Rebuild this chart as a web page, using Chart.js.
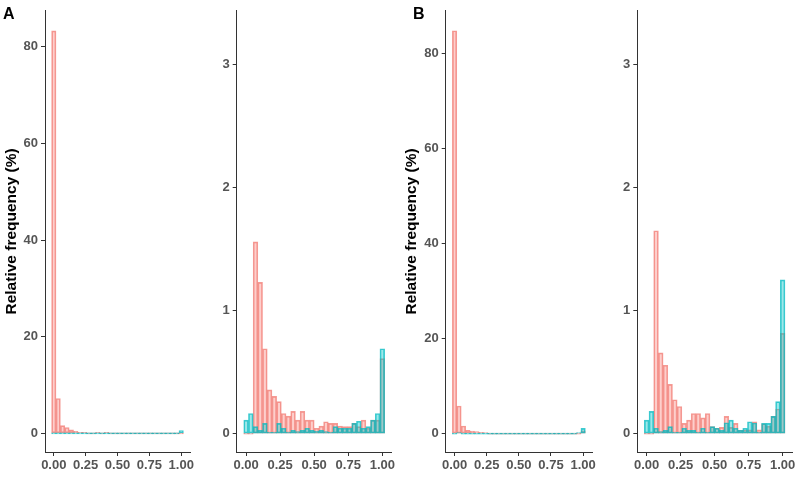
<!DOCTYPE html>
<html lang="en">
<head>
<meta charset="utf-8">
<title>Relative frequency histograms</title>
<script src="https://cdn.jsdelivr.net/npm/chart.js"></script>
<style>
    body { margin: 0; background: #fff; }
    .wrap { position: relative; width: 800px; height: 479px; overflow: hidden; }
    canvas { position: absolute; top: 0; }
    .tag {
        position: absolute; top: 5px; line-height: 16px;
        font: bold 16px "Liberation Sans", Arial, sans-serif; color: #000;
    }
</style>
</head>
<body>
<div class="wrap">
    <canvas id="aLeft" width="200" height="479" style="left:0px"></canvas>
    <canvas id="aRight" width="200" height="479" style="left:200px"></canvas>
    <canvas id="bLeft" width="200" height="479" style="left:400px"></canvas>
    <canvas id="bRight" width="200" height="479" style="left:600px"></canvas>
    <div class="tag" style="left:3px">A</div>
    <div class="tag" style="left:413px">B</div>
</div>
<script>
// 30 bins over 0..1 (bin centres)
const nBins = 30;
const binCenters = Array.from({length: nBins}, (_, i) => i / (nBins - 1));
const xTicks = [0, 0.25, 0.5, 0.75, 1];
const xTickLabels = ['0.00', '0.25', '0.50', '0.75', '1.00'];
const yTicksBig = [0, 20, 40, 60, 80];
const yTicksSmall = [0, 1, 2, 3];

// panel A, left
const aLeftRed = [83.3, 7.2, 1.6, 1.2, 0.7, 0.4, 0.2, 0.2, 0, 0, 0.15, 0, 0.15, 0, 0,
                  0, 0, 0, 0, 0, 0, 0, 0, 0, 0, 0, 0, 0, 0, 0];
const aLeftCyan = [0, 0, 0, 0, 0, 0, 0, 0, 0, 0, 0, 0, 0, 0, 0,
                   0, 0, 0, 0, 0, 0, 0, 0, 0, 0, 0, 0, 0, 0, 0.55];
// panel A, right
const aRightRed = [0, 0, 1.56, 1.23, 0.69, 0.356, 0.302, 0.26, 0.163, 0.142, 0.18, 0.11, 0.18, 0.11, 0.11,
                   0.043, 0.061, 0.096, 0.083, 0.083, 0.061, 0.056, 0.056, 0.083, 0.056, 0.11, 0.043, 0.11, 0.11, 0.61];
const aRightCyan = [0.11, 0.163, 0.056, 0.027, 0.083, 0.01, 0.01, 0.083, 0.043, 0.013, 0.027, 0.016, 0.027, 0.043, 0.027,
                    0.02, 0.027, 0.016, 0.01, 0.056, 0.043, 0.043, 0.043, 0.083, 0.1, 0.043, 0.056, 0.11, 0.163, 0.69];
// panel B, left
const bLeftRed = [84.7, 5.8, 1.6, 0.7, 0.55, 0.4, 0.25, 0.15, 0, 0, 0, 0, 0, 0, 0,
                  0, 0, 0, 0, 0, 0, 0, 0, 0, 0, 0, 0, 0, 0, 0.6];
const bLeftCyan = [0, 0.2, 0, 0, 0, 0, 0, 0, 0, 0, 0, 0, 0, 0, 0,
                   0, 0, 0, 0, 0, 0, 0, 0, 0, 0, 0, 0, 0, 0.2, 1.1];
// panel B, right
const bRightRed = [0, 0, 1.65, 0.656, 0.556, 0.40, 0.275, 0.22, 0.083, 0.11, 0.163, 0.163, 0.128, 0.163, 0.056,
                   0.043, 0.05, 0.14, 0.05, 0.083, 0.027, 0.03, 0.03, 0.096, 0.03, 0.08, 0.06, 0.14, 0.2, 0.815];
const bRightCyan = [0.11, 0.18, 0.043, 0.016, 0.027, 0.056, 0.01, 0.01, 0.043, 0.027, 0.027, 0.01, 0.043, 0.01, 0.056,
                    0.043, 0.027, 0.088, 0.11, 0.043, 0.027, 0.043, 0.096, 0.086, 0.01, 0.083, 0.083, 0.14, 0.26, 1.25];

const redFill = 'rgba(248, 118, 109, 0.35)';
const redLine = 'rgba(240, 112, 104, 0.7)';
const cyanFill = 'rgba(0, 191, 196, 0.38)';
const cyanLine = 'rgba(0, 186, 192, 0.75)';
const axisColor = '#333';
const tickFont = {family: '"Liberation Sans", Arial, sans-serif', size: 13, weight: 'bold'};

function series(values, fill, line) {
    return {
        data: values.map((v, i) => ({x: binCenters[i], y: v})),
        backgroundColor: fill,
        borderColor: line,
        borderWidth: 1,
        borderSkipped: false,
        grouped: false,
        barPercentage: 1,
        categoryPercentage: 1,
        minBarLength: 1
    };
}

function histPanel(id, red, cyan, yTicks, yMin, yMax, yWidth, padRight, showTitle) {
    new Chart(document.getElementById(id), {
        type: 'bar',
        data: {
            // cyan first so it is drawn on top of red
            datasets: [series(cyan, cyanFill, cyanLine), series(red, redFill, redLine)]
        },
        options: {
            responsive: false,
            animation: false,
            layout: {padding: {top: 4, right: padRight, left: 0, bottom: 0}},
            plugins: {legend: {display: false}, tooltip: {enabled: false}},
            scales: {
                x: {
                    type: 'linear',
                    min: -0.069,
                    max: 1.069,
                    offset: false,
                    grid: {drawOnChartArea: false, drawTicks: true, tickLength: 4, color: axisColor, offset: false},
                    border: {display: true, color: axisColor, width: 1},
                    ticks: {
                        font: tickFont, color: '#555', padding: 2, maxRotation: 0, autoSkip: false,
                        callback: v => xTickLabels[xTicks.indexOf(v)]
                    },
                    afterBuildTicks: s => { s.ticks = xTicks.map(v => ({value: v})); },
                    afterFit: s => { s.height = 27; }
                },
                y: {
                    min: yMin,
                    max: yMax,
                    grid: {drawOnChartArea: false, drawTicks: true, tickLength: 4, color: axisColor},
                    border: {display: true, color: axisColor, width: 1},
                    ticks: {font: tickFont, color: '#555', padding: 3},
                    afterBuildTicks: s => { s.ticks = yTicks.map(v => ({value: v})); },
                    afterFit: s => { s.width = yWidth; },
                    title: {
                        display: showTitle,
                        text: 'Relative frequency (%)',
                        color: '#000',
                        font: {family: '"Liberation Sans", Arial, sans-serif', size: 15.5, weight: 'bold'},
                        padding: {top: 2, bottom: 0}
                    }
                }
            }
        }
    });
}

histPanel('aLeft', aLeftRed, aLeftCyan, yTicksBig, -3.87, 87.46, 45, 10, true);
histPanel('aRight', aRightRed, aRightCyan, yTicksSmall, -0.15, 3.44, 36.7, 8.3, false);
histPanel('bLeft', bLeftRed, bLeftCyan, yTicksBig, -3.87, 88.9, 45.7, 8, true);
histPanel('bRight', bRightRed, bRightCyan, yTicksSmall, -0.15, 3.44, 37.3, 8, false);
</script>
</body>
</html>
